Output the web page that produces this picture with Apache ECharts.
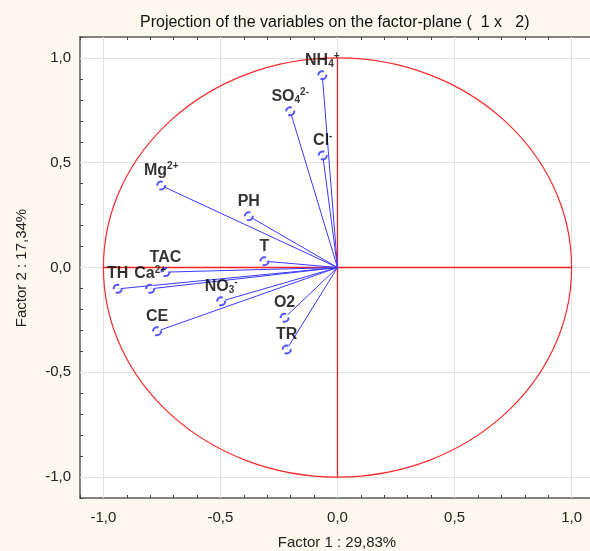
<!DOCTYPE html>
<html><head><meta charset="utf-8">
<script src="https://cdn.jsdelivr.net/npm/echarts@6/dist/echarts.min.js"></script>
<style>html,body{margin:0;padding:0;background:#fcf8ee;} #c{width:590px;height:551px;}</style>
</head><body><div id="c"></div>
<script>
const varNames = ['NH4+','SO4 2-','Cl-','Mg2+','PH','T','TAC','Ca2+','TH','NO3-','CE','O2','TR'];
const varLabels = ['NH{sub|4}{sup|+}','SO{sub|4}{sup|2-}','Cl{sup|-}','Mg{sup|2+}','PH','T','TAC','Ca{sup|2+}','TH','NO{sub|3}{sup|-}','CE','O2','TR'];
const factor1 = [-0.065,-0.202,-0.063,-0.753,-0.379,-0.312,-0.735,-0.800,-0.939,-0.497,-0.771,-0.226,-0.217];
const factor2 = [0.918,0.746,0.535,0.391,0.245,0.030,-0.022,-0.102,-0.102,-0.161,-0.304,-0.240,-0.391];
const majorTicks = [-1.0,-0.5,0.0,0.5,1.0];
const xMin = -1.1, xMax = 1.1, yMin = -1.1, yMax = 1.1, tickStep = 0.1;
const unitCircle = [[0,0,1]];
const titleText = 'Projection of the variables on the factor-plane (  1 x   2)';
const xName = 'Factor 1 : 29,83%';
const yName = 'Factor 2 : 17,34%';

const FONT = '"Liberation Sans", Arial, sans-serif';
const chart = echarts.init(document.getElementById('c'), null, {renderer:'canvas'});

function fmt(v){
  if (Math.abs(v*2 - Math.round(v*2)) > 1e-6) return '';
  return (Math.round(v*10)/10).toFixed(1).replace('.', ',');
}
const axisCommon = {
  type:'value', interval:tickStep,
  axisLine:{show:true, onZero:false, lineStyle:{color:'#5a5a5a', width:1.5}},
  axisTick:{show:true, inside:true, length:3, lineStyle:{color:'#444'}},
  splitLine:{show:false}
};
const vecData = [];
factor1.forEach((x,i)=>{ vecData.push([0,0]); vecData.push([x,factor2[i]]); vecData.push(null); });
const r = unitCircle[0][2];
const crossData = [[-r,0],[r,0],null,[0,-r],[0,r]];

const option = {
  backgroundColor:'#fcf8ee',
  animation:false,
  title:{text:titleText, left:135, top:10, textStyle:{fontFamily:FONT, fontSize:16, fontWeight:'normal', color:'#111'}},
  grid:{left:80, right:-5, top:37, bottom:53, outerBoundsMode:'none', containLabel:false, show:true, backgroundColor:'#ffffff', borderWidth:0},
  xAxis:[
    Object.assign({}, axisCommon, {min:xMin, max:xMax, position:'bottom', axisLabel:{formatter:fmt, fontFamily:FONT, fontSize:15, color:'#222', margin:12}}),
    Object.assign({}, axisCommon, {min:xMin, max:xMax, position:'top', axisLabel:{show:false}})
  ],
  yAxis:[
    Object.assign({}, axisCommon, {min:yMin, max:yMax, position:'left', axisLabel:{formatter:fmt, fontFamily:FONT, fontSize:15, color:'#222', margin:9}})
  ],
  graphic:[
    {type:'text', x:337, y:543, style:{text:xName, font:'15px '+FONT, fill:'#222', textAlign:'center', textVerticalAlign:'middle'}},
    {type:'text', rotation:Math.PI/2, x:22, y:268, style:{text:yName, font:'15px '+FONT, fill:'#222', textAlign:'center', textVerticalAlign:'middle'}}
  ],
  series:[
    {type:'line', data:[], silent:true, z:1,
     markLine:{silent:true, z:1, symbol:'none', label:{show:false}, lineStyle:{color:'#e2e2e2', width:1, type:'solid'},
       data: majorTicks.map(v=>({xAxis:v})).concat(majorTicks.map(v=>({yAxis:v})))}},
    {type:'custom', data:unitCircle, z:2, silent:true, clip:false,
     renderItem:function(params, api){
       const c = api.coord([api.value(0), api.value(1)]);
       const s = api.size([api.value(2), api.value(2)]);
       return {type:'ellipse', shape:{cx:c[0], cy:c[1], rx:s[0], ry:s[1]}, style:{fill:'none', stroke:'#f52a2a', lineWidth:1.2}};
     }},
    {type:'line', data:crossData, connectNulls:false, symbol:'none', z:3, silent:true,
     lineStyle:{color:'#f52020', width:1.3}, itemStyle:{color:'#f52020'}},
    {type:'line', data:vecData, connectNulls:false, symbol:'none', z:4, silent:true,
     lineStyle:{color:'#3a3aff', width:1}, itemStyle:{color:'#3a3aff'}},
    {type:'scatter', z:5, symbol:'emptyCircle', symbolSize:8,
     itemStyle:{color:'#2a2aff', borderColor:'#2a2aff', borderWidth:1, borderType:'dashed'},
     data: factor1.map((x,i)=>({name:varNames[i], value:[x,factor2[i]], label:{formatter:varLabels[i]}})),
     label:{show:true, position:'top', distance:1, color:'#000', fontFamily:FONT, fontSize:16, fontWeight:'bold', lineHeight:18,
       rich:{sub:{fontSize:10, fontFamily:FONT, fontWeight:'bold', color:'#000', verticalAlign:'bottom', lineHeight:12},
             sup:{fontSize:10, fontFamily:FONT, fontWeight:'bold', color:'#000', verticalAlign:'top', lineHeight:10}}}}
  ]
};
chart.setOption(option);
</script></body></html>
